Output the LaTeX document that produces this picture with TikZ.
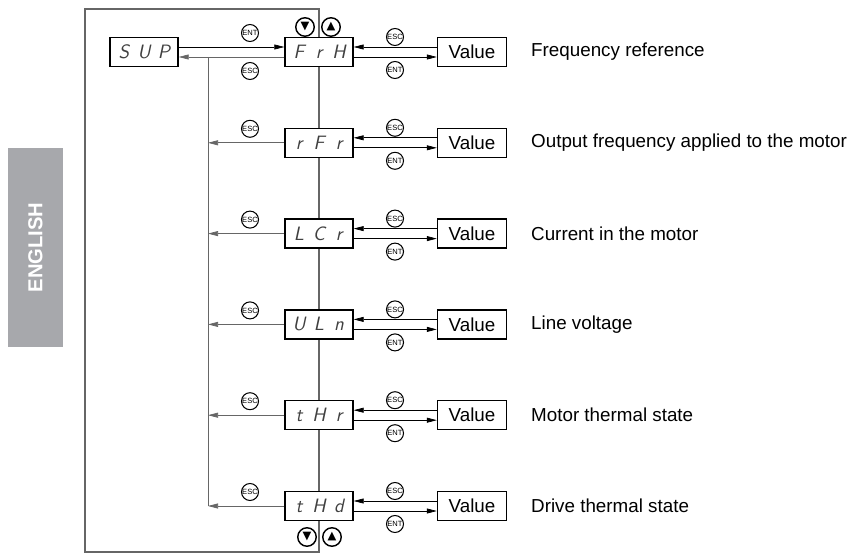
\documentclass[tikz,border=0pt]{standalone}
\usepackage{fontspec}
\setmainfont{Liberation Sans}
\newfontfamily\symfont{DejaVu Sans}
\usetikzlibrary{arrows.meta,positioning,calc}
\colorlet{lineGray}{black!60}
\definecolor{tabGray}{RGB}{167,168,172}
\newcommand{\segtext}[3]{\makebox[4mm]{#1}\makebox[4mm]{#2}\makebox[4mm]{#3}}
\tikzset{
  disp/.style={draw, thick, fill=white, minimum width=13.6mm, minimum height=5.8mm, inner sep=0pt, text=black!75, font=\fontsize{11}{11}\sffamily\slshape},
  valbox/.style={draw, thick, fill=white, minimum width=13.8mm, minimum height=5.8mm, inner sep=0pt, font=\fontsize{10.7}{12}\selectfont},
  btn/.style={draw, line width=0.6pt, circle, fill=white, minimum size=3.4mm, inner sep=0pt, font=\fontsize{4.3}{4.3}\selectfont},
  navkey/.style={draw, thick, circle, fill=white, minimum size=3.7mm, inner sep=0pt, font=\fontsize{6.5}{6.5}\symfont},
  flow/.style={-{Triangle[length=2mm,width=1mm]}},
}
\begin{document}
\begin{tikzpicture}[x=0.2mm, y=-0.2mm]
    \useasboundingbox (0,0) rectangle (864,555);
    % language tab
    \node[fill=tabGray, rotate=90, minimum width=39.8mm, minimum height=11mm, text=white, font=\fontsize{11.5}{12}\bfseries] (lang) at (35.5,247.5) {ENGLISH};
    % frame
    \draw[lineGray, line width=0.8pt] (85,9) rectangle (319,552);
    \node[disp] (sup) at (144,52) {\segtext{S}{U}{P}};
    % menu rows
    \foreach \a/\b/\c/\txt [count=\i from 0] in {F/r/H/Frequency reference, r/F/r/Output frequency applied to the motor, L/C/r/Current in the motor, U/L/n/Line voltage, t/H/r/Motor thermal state, t/H/d/Drive thermal state} {
        \pgfmathsetmacro\yy{52+90.8*\i}
        \node[disp] (d\i) at (319,\yy) {\segtext{\a}{\b}{\c}};
        \node[valbox] (v\i) at (472,\yy) {Value};
        \node[anchor=west, font=\fontsize{10.7}{12}\selectfont] (t\i) at (525,\yy) {\txt};
        \draw[flow] ([yshift=1mm]v\i.west) -- ([yshift=1mm]d\i.east);
        \draw[flow] ([yshift=-1mm]d\i.east) -- ([yshift=-1mm]v\i.west);
        \node[btn] (vesc\i) at (395,\yy-15) {ESC};
        \node[btn] (vent\i) at (395,\yy+18) {ENT};
    }
    % way back to SUP
    \draw[flow] ([yshift=1mm]sup.east) -- ([yshift=1mm]d0.west);
    \draw[flow, lineGray] ([yshift=-1mm]d0.west) -- ([yshift=-1mm]sup.east);
    \node[btn] (lent0) at (250,33) {ENT};
    \node[btn] (lesc0) at (250,71) {ESC};
    \coordinate (ret) at (208,57);
    \draw[lineGray] (ret) -- (ret |- d5);
    \foreach \i in {1,...,5} {
        \draw[flow, lineGray] (d\i.west) -- (ret |- d\i);
        \node[btn] (lesc\i) at ([xshift=-13.8mm, yshift=2.8mm]d\i.center) {ESC};
    }
    % arrow keys
    \node[navkey] (dn0) at (305,27) {▼};
    \node[navkey] (up0) at (331,27) {▲};
    \node[navkey] (dn1) at (307,537) {▼};
    \node[navkey] (up1) at (332,537) {▲};
\end{tikzpicture}
\end{document}
